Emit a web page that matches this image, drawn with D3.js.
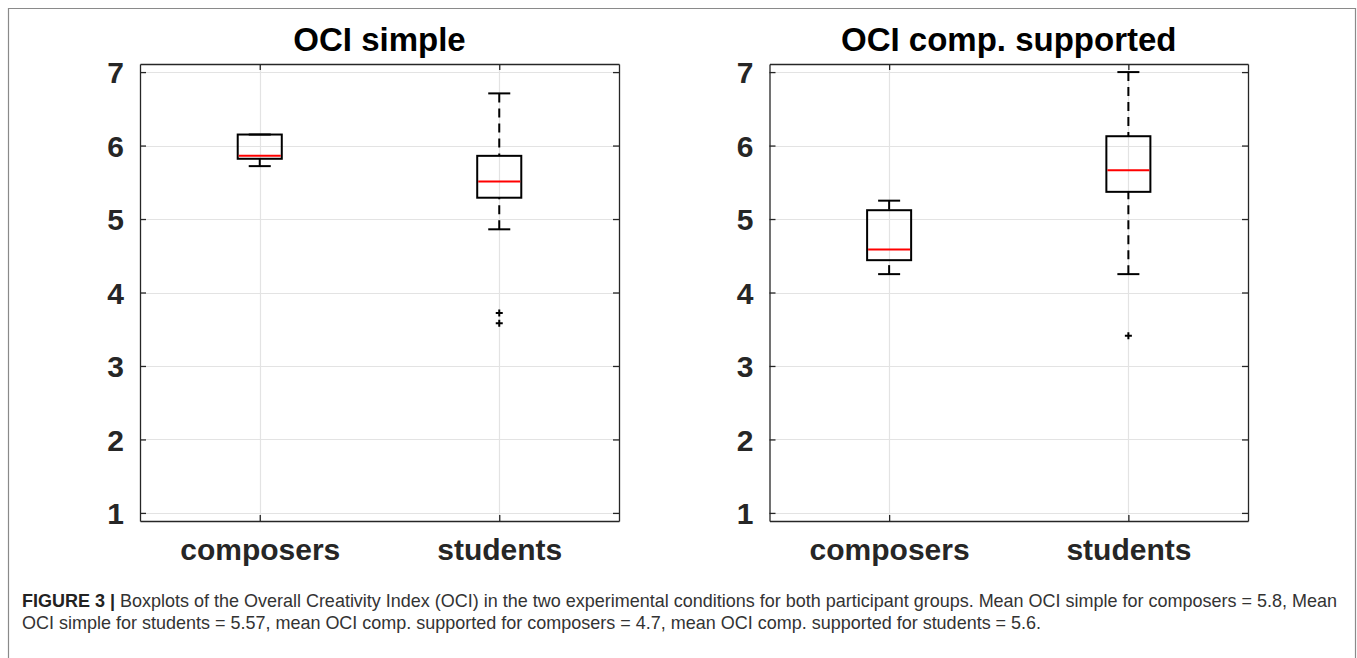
<!DOCTYPE html>
<html>
<head>
<meta charset="utf-8">
<script src="https://cdn.jsdelivr.net/npm/d3@7"></script>
<style>
  html, body { margin: 0; padding: 0; background: #fff; }
  svg { display: block; }
</style>
</head>
<body>
<svg id="fig" width="1357" height="658"></svg>
<script>
// ---- data ----
const groups = ["composers", "students"];
const panelTitles = ["OCI simple", "OCI comp. supported"];
const yTicks = [1, 2, 3, 4, 5, 6, 7];

// box statistics per group: [lower whisker, Q1, median, Q3, upper whisker]
const simpleStats = [
  [5.72, 5.82, 5.86, 6.15, 6.15],
  [4.86, 5.29, 5.51, 5.86, 6.71]
];
const simpleOutliers = [[], [3.72, 3.58]];

const supportedStats = [
  [4.25, 4.44, 4.585, 5.12, 5.25],
  [4.25, 5.37, 5.665, 6.127, 7.0]
];
const supportedOutliers = [[], [3.41]];

const captionBold = "FIGURE 3 | ";
const captionLine1 = "Boxplots of the Overall Creativity Index (OCI) in the two experimental conditions for both participant groups. Mean OCI simple for composers = 5.8, Mean";
const captionLine2 = "OCI simple for students = 5.57, mean OCI comp. supported for composers = 4.7, mean OCI comp. supported for students = 5.6.";

// ---- layout ----
const svg = d3.select("#fig");
const W = 1357, H = 658;
const panelsLayout = [
  { left: 140, right: 619, stats: simpleStats, outliers: simpleOutliers },
  { left: 769.5, right: 1248, stats: supportedStats, outliers: supportedOutliers }
];
const axTop = 64, axBottom = 521;
const axisColor = "#262626";
const gridColor = "#e3e3e3";
const tickFont = "'Liberation Sans', Arial, Helvetica, sans-serif";

// outer frame
svg.append("path")
  .attr("d", `M8.5,${H + 2} V8.5 H1355.5 V${H + 2}`)
  .attr("fill", "none")
  .attr("stroke", "#8a8a8a")
  .attr("stroke-width", 1.2);

panelsLayout.forEach((p, pi) => {
  const x = d3.scaleLinear().domain([0.5, 2.5]).range([p.left, p.right]);
  const y = d3.scaleLinear().domain([0.89, 7.11]).range([axBottom, axTop]);
  const g = svg.append("g");

  // grid
  g.append("g").selectAll("line").data(yTicks).join("line")
    .attr("x1", p.left).attr("x2", p.right)
    .attr("y1", d => Math.round(y(d)) + 0.5).attr("y2", d => Math.round(y(d)) + 0.5)
    .attr("stroke", gridColor).attr("stroke-width", 1.2);
  g.append("g").selectAll("line").data([1, 2]).join("line")
    .attr("x1", d => Math.round(x(d)) + 0.5).attr("x2", d => Math.round(x(d)) + 0.5)
    .attr("y1", axTop).attr("y2", axBottom)
    .attr("stroke", gridColor).attr("stroke-width", 1.2);

  // axes: left / bottom with labels, right / top mirrored ticks only
  const yAxis = d3.axisLeft(y).tickValues(yTicks).tickSizeInner(-6).tickSizeOuter(0).tickPadding(16).tickFormat(d3.format("d"));
  const yAxisR = d3.axisRight(y).tickValues(yTicks).tickSizeInner(-6).tickSizeOuter(0).tickFormat("");
  const xAxis = d3.axisBottom(x).tickValues([1, 2]).tickSizeInner(-6).tickSizeOuter(0).tickPadding(18)
    .tickFormat(d => groups[d - 1]);
  const xAxisT = d3.axisTop(x).tickValues([1, 2]).tickSizeInner(-6).tickSizeOuter(0).tickFormat("");

  const styleAxis = sel => {
    sel.selectAll("path").attr("stroke", axisColor).attr("stroke-width", 1.3);
    sel.selectAll("line").attr("stroke", axisColor).attr("stroke-width", 1.3);
    sel.selectAll("text")
      .attr("fill", axisColor)
      .style("font-family", tickFont)
      .style("font-weight", "bold");
  };

  g.append("g").attr("transform", `translate(${p.left},0)`).call(yAxis).call(styleAxis)
    .selectAll("text").style("font-size", "30px").attr("dy", "0.36em");
  g.append("g").attr("transform", `translate(${p.right},0)`).call(yAxisR).call(styleAxis);
  g.append("g").attr("transform", `translate(0,${axBottom})`).call(xAxis).call(styleAxis)
    .selectAll("text").style("font-size", "30px");
  g.append("g").attr("transform", `translate(0,${axTop})`).call(xAxisT).call(styleAxis);

  // title
  g.append("text")
    .attr("x", (p.left + p.right) / 2).attr("y", 51)
    .attr("text-anchor", "middle")
    .style("font-family", tickFont).style("font-weight", "bold").style("font-size", "33px")
    .attr("fill", "#000")
    .text(panelTitles[pi]);

  // boxes
  const halfBox = x(1.092) - x(1);
  const halfCap = halfBox / 2;
  p.stats.forEach((s, i) => {
    const cx = x(i + 1);
    const [lo, q1, med, q3, hi] = s;
    const bg = g.append("g");
    // whiskers, drawn from the cap toward the box
    bg.append("line").attr("x1", cx).attr("x2", cx).attr("y1", y(hi)).attr("y2", y(q3))
      .attr("stroke", "#000").attr("stroke-width", 2).attr("stroke-dasharray", "9,6");
    bg.append("line").attr("x1", cx).attr("x2", cx).attr("y1", y(lo)).attr("y2", y(q1))
      .attr("stroke", "#000").attr("stroke-width", 2).attr("stroke-dasharray", "9,6");
    // caps
    [lo, hi].forEach(v => {
      bg.append("line").attr("x1", cx - halfCap).attr("x2", cx + halfCap)
        .attr("y1", y(v)).attr("y2", y(v))
        .attr("stroke", "#000").attr("stroke-width", 2);
    });
    // box
    bg.append("rect")
      .attr("x", cx - halfBox).attr("width", 2 * halfBox)
      .attr("y", y(q3)).attr("height", y(q1) - y(q3))
      .attr("fill", "none").attr("stroke", "#000").attr("stroke-width", 2);
    // median
    bg.append("line").attr("x1", cx - halfBox + 1).attr("x2", cx + halfBox - 1)
      .attr("y1", y(med)).attr("y2", y(med))
      .attr("stroke", "#ff0000").attr("stroke-width", 2);
    // outliers
    p.outliers[i].forEach(v => {
      const oy = y(v);
      bg.append("path")
        .attr("d", `M${cx - 3.5},${oy} H${cx + 3.5} M${cx},${oy - 3.5} V${oy + 3.5}`)
        .attr("stroke", "#000").attr("stroke-width", 2).attr("fill", "none");
    });
  });
});

// ---- caption ----
const capFont = "'Liberation Sans Narrow', 'Liberation Sans', Arial, sans-serif";
const capLeft = 22, capRight = 1338;
const cap = svg.append("g").style("font-family", capFont).attr("fill", "#333");
const t1 = cap.append("text").attr("x", capLeft).attr("y", 607).style("font-size", "17px");
t1.append("tspan").style("font-weight", "bold").attr("fill", "#222").text(captionBold);
t1.append("tspan").text(captionLine1);
const t2 = cap.append("text").attr("x", capLeft).attr("y", 629).style("font-size", "17px").text(captionLine2);
// size the caption so that the first line fills the text column
const natural = t1.node().getComputedTextLength();
const size = 17 * (capRight - capLeft) / natural;
t1.style("font-size", size + "px");
t2.style("font-size", size + "px");
</script>
</body>
</html>
